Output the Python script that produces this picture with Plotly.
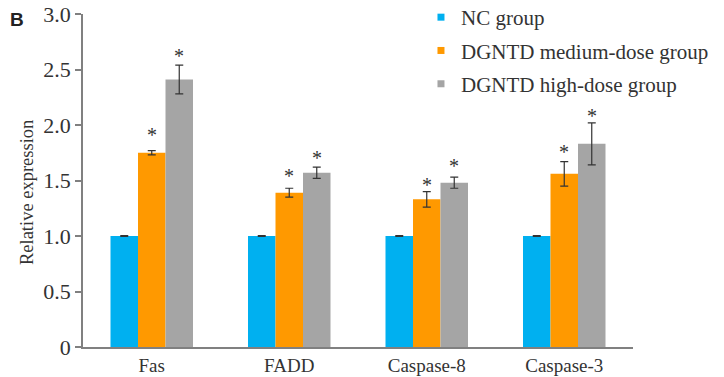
import plotly.graph_objects as go

categories = ["Fas", "FADD", "Caspase-8", "Caspase-3"]
series_names = ["NC group", "DGNTD medium-dose group", "DGNTD high-dose group"]
nc_values = [1.0, 1.0, 1.0, 1.0]
nc_err = [0.003, 0.003, 0.003, 0.003]
medium_values = [1.75, 1.39, 1.33, 1.56]
medium_err = [0.02, 0.04, 0.07, 0.11]
high_values = [2.41, 1.57, 1.48, 1.83]
high_err = [0.13, 0.05, 0.05, 0.19]
medium_star_y = [1.94, 1.565, 1.49, 1.78]
high_star_y = [2.65, 1.73, 1.655, 2.11]
y_ticks = [0, 0.5, 1.0, 1.5, 2.0, 2.5, 3.0]
y_tick_labels = ["0", "0.5", "1.0", "1.5", "2.0", "2.5", "3.0"]
y_title = "Relative expression"

colors = ["#00B0F0", "#FF9900", "#A5A5A5"]
serif = "Liberation Serif"
text_col = "#333333"

fig = go.Figure()
for i, (name, vals, errs, col) in enumerate([
    (series_names[0], nc_values, nc_err, colors[0]),
    (series_names[1], medium_values, medium_err, colors[1]),
    (series_names[2], high_values, high_err, colors[2]),
]):
    fig.add_trace(go.Bar(
        x=categories, y=vals, name=name, marker=dict(color=col, line=dict(width=0)),
        error_y=dict(type="data", array=errs, visible=True, color="#333333", thickness=1.2, width=4),
        showlegend=False,
    ))
    fig.add_trace(go.Scatter(
        x=[categories[0]], y=[None], mode="markers", name=name, legendgroup="g%d" % i,
        marker=dict(symbol="square", size=7, color=col), showlegend=True,
    ))

annotations = []
for cat, y in zip(categories, medium_star_y):
    annotations.append(dict(x=cat, y=y, text="*", showarrow=False, xshift=0,
                            yanchor="middle", yshift=-3, font=dict(family=serif, size=20, color=text_col)))
for cat, y in zip(categories, high_star_y):
    annotations.append(dict(x=cat, y=y, text="*", showarrow=False, xshift=27.5,
                            yanchor="middle", yshift=-3, font=dict(family=serif, size=20, color=text_col)))
annotations.append(dict(xref="paper", yref="paper", x=-0.12, y=0.982, text="<b>B</b>",
                        showarrow=False, xanchor="center", yanchor="middle",
                        font=dict(family="Liberation Sans", size=19, color="#222222")))
annotations.append(dict(xref="paper", yref="paper", x=-0.102, y=0.465, text=y_title, textangle=-90,
                        showarrow=False, xanchor="center", yanchor="middle",
                        font=dict(family=serif, size=18.5, color=text_col)))

fig.update_layout(
    width=724, height=377,
    margin=dict(l=83, r=91, t=14, b=30, autoexpand=False),
    plot_bgcolor="white", paper_bgcolor="white",
    barmode="group", bargap=0.4, bargroupgap=0,
    font=dict(family=serif, size=19, color=text_col),
    xaxis=dict(type="category", range=[-0.5, 3.5], showline=True, linecolor="#808080", linewidth=1.5,
               ticks="", tickfont=dict(family=serif, size=19, color=text_col), showgrid=False,
               zeroline=False, automargin=False),
    yaxis=dict(range=[0, 3.0], tickvals=y_ticks, ticktext=y_tick_labels, showline=True,
               linecolor="#808080", linewidth=1.5, ticks="outside", ticklen=6, tickcolor="#808080",
               tickwidth=1.5, showgrid=False, zeroline=False, automargin=False,
               tickfont=dict(family=serif, size=22, color=text_col)),
    legend=dict(x=0.6145, y=1.051, xanchor="left", yanchor="top", bgcolor="rgba(0,0,0,0)",
                font=dict(family=serif, size=21, color=text_col), tracegroupgap=3,
                itemwidth=30, traceorder="grouped"),
    annotations=annotations,
)
fig.write_html("out.html")
